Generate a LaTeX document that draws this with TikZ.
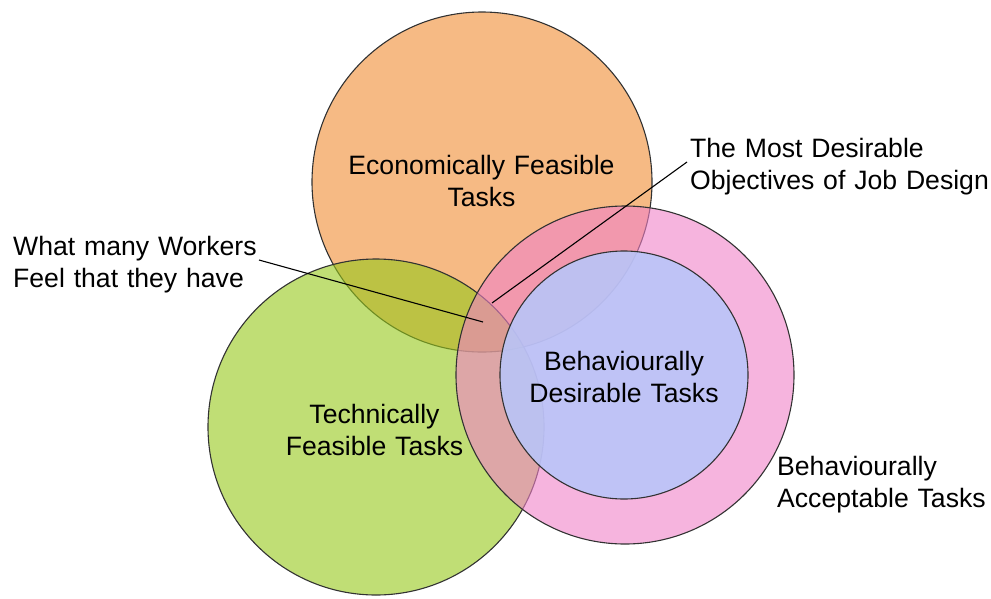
\documentclass[tikz,border=0pt]{standalone}
\usepackage{fontspec}
\setmainfont{Liberation Sans}
\definecolor{cOrange}{RGB}{240,140,50}
\definecolor{cGreen}{RGB}{150,200,25}
\definecolor{cPink}{RGB}{240,130,200}
\definecolor{cBlue}{RGB}{184,198,250}
\definecolor{cEdge}{RGB}{50,50,50}
\begin{document}
\begin{tikzpicture}[x=1pt,y=-1pt,
  setcircle/.style={draw=cEdge,line width=1.1pt},
  lbl/.style={inner sep=0pt,font=\fontsize{26.6}{32}\selectfont,text width=320pt},
  ctrlbl/.style={lbl,align=center,anchor=base},
  leftlbl/.style={lbl,align=left,anchor=base west},
  leader/.style={draw=black,line width=1.1pt}]
\useasboundingbox (0,0) rectangle (991,598);
% circles
\draw[setcircle,fill=cOrange,fill opacity=0.6] (482,182) circle[radius=170];
\draw[setcircle,fill=cGreen,fill opacity=0.6] (376,427) circle[radius=168];
\draw[setcircle,fill=cPink,fill opacity=0.6] (625,375) circle[radius=169];
\draw[setcircle,fill=cBlue,fill opacity=0.88] (624,375) circle[radius=124];
% labels in circles
\node[ctrlbl] (econ) at (481.5,174) {Economically Feasible\\Tasks};
\node[ctrlbl] (tech) at (374.5,423) {Technically\\Feasible Tasks};
\node[ctrlbl] (bdes) at (624,370) {Behaviourally\\Desirable Tasks};
% outside labels
\node[leftlbl] (workers) at (13,255) {What many Workers\\Feel that they have};
\node[leftlbl] (most) at (690,157) {The Most Desirable\\Objectives of Job Design};
\node[leftlbl] (bacc) at (777,475) {Behaviourally\\Acceptable Tasks};
% leader lines
\coordinate (wstart) at (259,260);
\coordinate (wend) at (483,322);
\coordinate (mstart) at (687,162);
\coordinate (mend) at (492,303);
\draw[leader] (wstart) -- (wend);
\draw[leader] (mstart) -- (mend);
\end{tikzpicture}
\end{document}
